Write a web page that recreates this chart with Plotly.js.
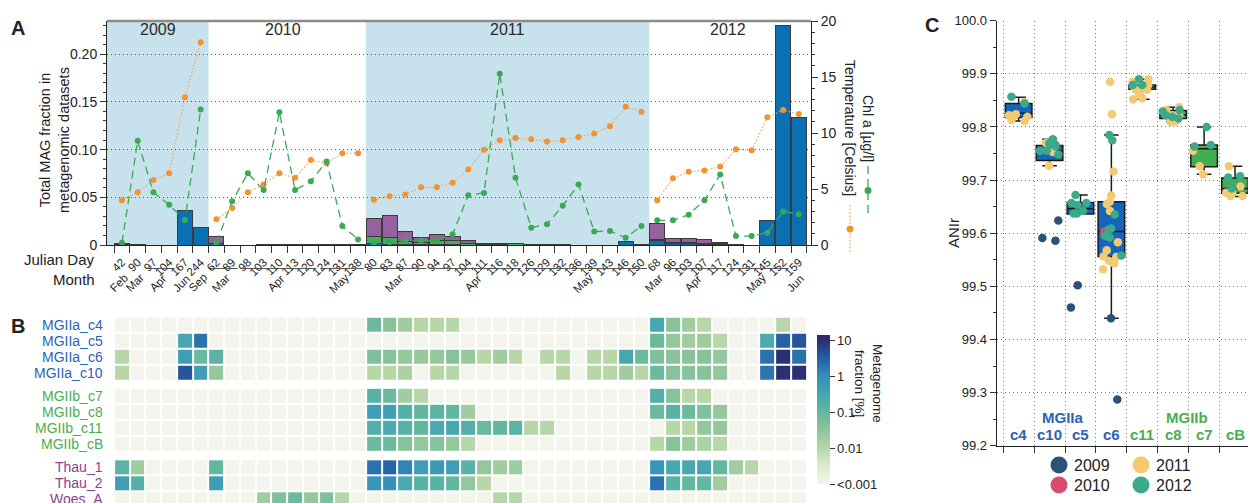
<!DOCTYPE html>
<html><head><meta charset="utf-8">
<script src="https://cdn.plot.ly/plotly-3.0.1.min.js"></script>
<style>html,body{margin:0;padding:0;background:#fff}#chart{width:1248px;height:503px}</style>
</head><body><div id="chart"></div>
<script>
const W = 1248, H = 503;
const px = x => x / W, py = y => 1 - y / H;
const FONT = 'Liberation Sans, Arial, Helvetica, sans-serif';

// ---------- Panel A data ----------
const years = ['2009', '2010', '2011', '2012'];
const days2009 = [42, 90, 97, 104, 167, 244];
const days2010 = [62, 89, 98, 103, 110, 113, 120, 124, 131, 138];
const days2011 = [80, 83, 87, 90, 94, 97, 104, 111, 116, 118, 126, 129, 132, 136, 139, 143, 146, 150];
const days2012 = [68, 96, 103, 107, 117, 124, 131, 145, 152, 159];

const temp2009 = [4.0, 4.7, 5.8, 6.4, 13.2, 18.1];
const temp2010 = [2.3, 3.3, 4.7, 5.4, 6.4, 6.0, 7.6, 7.3, 8.2, 8.2];
const temp2011 = [4.05, 4.35, 4.5, 5.15, 5.15, 5.55, 6.75, 8.5, 9.35, 9.55, 9.45, 9.25, 9.35, 9.65, 9.95, 10.6, 12.35, 11.9];
const temp2012 = [4.0, 5.95, 6.55, 6.65, 7.0, 8.55, 8.45, 11.4, 12.05, 11.7];

const chl2009 = [0.2, 9.3, 4.7, 3.6, 2.2, 12.1];
const chl2010 = [0.2, 3.9, 6.4, 4.9, 11.85, 4.9, 5.7, 7.45, 1.7, 0.5];
const chl2011 = [0.2, 0.25, 0.4, 0.4, 0.4, 0.95, 4.45, 4.65, 15.3, 6.0, 1.55, 1.85, 3.5, 5.4, 1.2, 1.25, 0.65, 1.7];
const chl2012 = [2.2, 2.2, 2.7, 4.0, 6.3, 0.8, 0.8, 1.1, 3.0, 2.75];

// MAG fractions (stacked bars)
const mgIIaFrac = [0.0005, 0, 0, 0, 0.036, 0.018,
  0.002, 0, 0, 0, 0, 0, 0, 0, 0, 0,
  0.002, 0.001, 0.0005, 0.0005, 0.0005, 0.0005, 0, 0, 0, 0, 0, 0, 0, 0, 0, 0, 0.004, 0.001,
  0.005, 0.0015, 0.0015, 0.001, 0.001, 0.0003, 0, 0.026, 0.23, 0.134];
const mgIIbFrac = [0, 0, 0, 0, 0, 0,
  0, 0, 0, 0, 0, 0, 0, 0, 0, 0,
  0.007, 0.007, 0.0035, 0.0023, 0.004, 0.004, 0.0018, 0.0008, 0.0008, 0.0012, 0.0003, 0.0003, 0.0003, 0, 0, 0, 0, 0,
  0.0007, 0.0008, 0.0008, 0.0006, 0.0003, 0, 0, 0, 0, 0];
const thauFrac = [0.001, 0.0003, 0, 0, 0, 0,
  0.007, 0, 0, 0.0003, 0.0008, 0.001, 0.0005, 0.0005, 0.0008, 0.0002,
  0.019, 0.023, 0.01, 0.0053, 0.006, 0.0049, 0.0024, 0.0012, 0.001, 0.0003, 0, 0, 0, 0, 0, 0, 0, 0,
  0.017, 0.0043, 0.0043, 0.004, 0.0015, 0.0005, 0, 0, 0, 0];

// Month labels: name, first and last sample (index in the concatenated day list)
const monthNames = ['Feb', 'Mar', 'Apr', 'Jun', 'Sep', 'Mar', 'Apr', 'May', 'Mar', 'Apr', 'May', 'Mar', 'Apr', 'May', 'Jun'];
const monthFirst = [0, 1, 2, 4, 5, 6, 8, 13, 16, 20, 26, 34, 35, 39, 43];
const monthLast  = [0, 1, 3, 4, 5, 7, 12, 15, 19, 25, 33, 34, 38, 42, 43];

// ---------- Panel B data (metagenome fraction, %) ----------
const rowNames = ['MGIIa_c4', 'MGIIa_c5', 'MGIIa_c6', 'MGIIa_c10', 'MGIIb_c7', 'MGIIb_c8', 'MGIIb_c11', 'MGIIb_cB', 'Thau_1', 'Thau_2', 'Woes_A'];
const c4Pct  = [0,0,0,0,0,0, 0,0,0,0,0,0,0,0,0,0, 0.08,0.04,0.02,0.01,0.01,0.01,0,0,0,0,0,0,0,0,0,0,0,0, 0.3,0.04,0.02,0.01,0,0,0,0,0.01,0];
const c5Pct  = [0,0,0,0,0.3,2, 0,0,0,0,0,0,0,0,0,0, 0,0,0,0,0,0,0,0,0,0,0,0,0,0,0,0,0,0, 0.08,0.028,0.02,0.02,0.01,0,0,0.25,3,4];
const c6Pct  = [0.01,0,0,0,0.5,0.08, 0.13,0,0,0,0,0,0,0,0,0, 0.05,0.04,0.028,0.025,0.028,0.04,0.025,0.01,0.02,0.01,0,0.01,0.01,0,0.01,0.01,0.3,0.08, 0.05,0.04,0.04,0.04,0.028,0,0,2,10,2];
const c10Pct = [0.01,0,0,0,4,0.5, 0.028,0,0,0,0,0,0,0,0,0, 0.01,0.01,0.014,0,0.01,0.01,0,0,0,0,0,0,0.01,0,0.01,0.01,0.02,0.01, 0.08,0.04,0.04,0.04,0.028,0,0,1.8,10,10];
const c7Pct  = [0,0,0,0,0,0, 0,0,0,0,0,0,0,0,0,0, 0.14,0.08,0.02,0.01,0,0,0,0,0,0,0,0,0,0,0,0,0,0, 0.18,0.04,0.01,0.01,0,0,0,0,0,0];
const c8Pct  = [0,0,0,0,0,0, 0,0,0,0,0,0,0,0,0,0, 0.5,0.45,0.18,0.1,0.13,0.1,0.02,0,0,0,0,0,0,0,0,0,0,0, 0.08,0.14,0.08,0.05,0.028,0,0,0,0,0];
const c11Pct = [0,0,0,0,0,0, 0,0,0,0,0,0,0,0,0,0, 0.18,0.25,0.14,0.1,0.25,0.28,0.18,0.08,0.1,0.13,0.01,0.01,0,0,0,0,0,0, 0,0.01,0.01,0.028,0.028,0,0,0,0,0];
const cBPct  = [0,0,0,0,0,0, 0,0,0,0,0,0,0,0,0,0, 0.08,0.08,0.04,0.028,0.04,0.028,0.01,0,0,0,0,0,0,0,0,0,0,0, 0.01,0.04,0.02,0.014,0.01,0,0,0,0,0];
const thau1Pct = [0.13,0.02,0,0,0,0, 0.1,0,0,0,0,0,0,0,0,0, 2,2.8,1.3,0.5,0.6,0.5,0.14,0.028,0.02,0.022,0,0,0,0,0,0,0,0, 0.8,0.3,0.28,0.3,0.1,0.02,0.01,0,0,0];
const thau2Pct = [0.5,0.18,0,0,0,0, 0.5,0,0,0,0,0,0,0,0,0, 0.8,1,0.25,0.14,0.14,0.1,0.028,0.01,0,0,0,0,0,0,0,0,0,0, 2,0.14,0.1,0.1,0.02,0,0,0,0,0];
const woesAPct = [0,0,0,0,0,0, 0,0,0,0.02,0.05,0.08,0.028,0.05,0.01,0, 0,0,0,0,0,0,0,0,0.01,0.01,0,0,0,0,0,0,0,0, 0,0,0,0,0,0,0,0,0,0];
const cbTickVals = [0.001, 0.01, 0.1, 1, 10];
const cbTickText = ['<0.001', '0.01', '0.1', '1', '10'];

// ---------- Panel C data ----------
const clusters = ['c4', 'c10', 'c5', 'c6', 'c11', 'c8', 'c7', 'cB'];
const clusterGroup = ['MGIIa', 'MGIIa', 'MGIIa', 'MGIIa', 'MGIIb', 'MGIIb', 'MGIIb', 'MGIIb'];
const q1C  = [99.818, 99.737, 99.636, 99.556, 99.871, 99.816, 99.725, 99.675];
const medC = [99.826, 99.755, 99.646, 99.603, 99.875, 99.823, 99.759, 99.684];
const q3C  = [99.844, 99.765, 99.658, 99.659, 99.879, 99.831, 99.766, 99.704];
const lowC = [99.811, 99.727, 99.636, 99.440, 99.852, 99.810, 99.711, 99.669];
const upC  = [99.856, 99.777, 99.672, 99.785, 99.890, 99.837, 99.800, 99.726];

const ani2009Cl = ['c10', 'c10', 'c10', 'c5', 'c5', 'c6', 'c6'];
const ani2009 = [99.624, 99.586, 99.591, 99.502, 99.460, 99.440, 99.287];
const ani2010Cl = ['c10', 'c6'];
const ani2010 = [99.766, 99.603];
const ani2011Cl = ['c4','c4','c4','c4','c4','c4', 'c10','c10','c10',
  'c6','c6','c6','c6','c6','c6','c6','c6','c6','c6','c6','c6','c6','c6',
  'c11','c11','c11','c11','c11','c11','c11','c11','c11','c11',
  'c8','c8','c8','c8','c8','c8','c8','c8', 'c7','c7','c7', 'cB','cB','cB','cB','cB','cB'];
const ani2011 = [99.813, 99.819, 99.811, 99.847, 99.822, 99.824, 99.770, 99.753, 99.727,
  99.885, 99.824, 99.716, 99.671, 99.659, 99.655, 99.642, 99.583, 99.568, 99.556, 99.555, 99.548, 99.543, 99.532,
  99.863, 99.877, 99.870, 99.852, 99.854, 99.870, 99.885, 99.890, 99.870, 99.879,
  99.832, 99.810, 99.822, 99.810, 99.822, 99.837, 99.822, 99.819, 99.755, 99.726, 99.711,
  99.675, 99.670, 99.726, 99.670, 99.688, 99.676];
const ani2012Cl = ['c4','c4', 'c10','c10','c10','c10','c10','c10', 'c5','c5','c5','c5','c5','c5','c5',
  'c6','c6','c6','c6','c6','c6','c6','c6', 'c11','c11','c11', 'c8','c8','c8','c8','c8', 'c7','c7','c7', 'cB','cB','cB'];
const ani2012 = [99.844, 99.857, 99.755, 99.748, 99.755, 99.777, 99.769, 99.763,
  99.657, 99.672, 99.657, 99.653, 99.642, 99.637, 99.637,
  99.785, 99.775, 99.635, 99.595, 99.592, 99.607, 99.609, 99.558,
  99.879, 99.879, 99.890, 99.829, 99.816, 99.819, 99.832, 99.822,
  99.800, 99.766, 99.763, 99.705, 99.707, 99.684];

// ---------- styles ----------
const BLUE = '#0b6fb4', GREEN = '#43ad5a', PURPLE = '#97609f';
const SHADE = '#c7e2ec';
const TEMPC = '#f39233', CHLC = '#3aa956';
const YEARCOL = {'2009': '#2b5279', '2010': '#d94c6b', '2011': '#f3ca72', '2012': '#3aaa88'};
const LBLUE = '#2b62b5', LGREEN = '#4aae4f', LPURPLE = '#8e4090';

const daysByYear = [days2009, days2010, days2011, days2012];
const tempByYear = [temp2009, temp2010, temp2011, temp2012];
const chlByYear = [chl2009, chl2010, chl2011, chl2012];
const allDays = [].concat(...daysByYear);
const idx = allDays.map((d, i) => i);
const yearStart = [];
{ let s = 0; daysByYear.forEach(a => { yearStart.push(s); s += a.length; }); }

const traces = [];
[[mgIIaFrac, BLUE], [mgIIbFrac, GREEN], [thauFrac, PURPLE]].forEach(([v, c]) => {
  traces.push({type: 'bar', x: idx, y: v, xaxis: 'x', yaxis: 'y', width: 0.96,
    marker: {color: c, line: {color: '#3b3b3b', width: 1}}, hoverinfo: 'skip'});
});
daysByYear.forEach((d, k) => {
  const xs = d.map((_, i) => yearStart[k] + i);
  traces.push({type: 'scatter', mode: 'lines+markers', x: xs, y: tempByYear[k], xaxis: 'x', yaxis: 'y2',
    line: {color: '#f6a25a', width: 1.2, dash: '1.5px,2px'}, marker: {color: TEMPC, size: 6}, hoverinfo: 'skip'});
  traces.push({type: 'scatter', mode: 'lines+markers', x: xs, y: chlByYear[k], xaxis: 'x', yaxis: 'y2',
    line: {color: CHLC, width: 1.3, dash: '8px,5px'}, marker: {color: CHLC, size: 6}, hoverinfo: 'skip'});
});

// heatmap
const ZMIN = -3, ZMAX = 1.15;
const lg = v => Math.log10(Math.max(v, 0.001));
const nz = z => (z - ZMIN) / (ZMAX - ZMIN);
const cscale = [
  [0, '#f3f5ec'], [nz(-2.5), '#dcebd0'], [nz(-2), '#b7d7a8'], [nz(-1.5), '#90c59a'],
  [nz(-1), '#63b79f'], [nz(-0.5), '#45a6b3'], [nz(0), '#3590ba'], [nz(0.5), '#2460a6'],
  [nz(1), '#2b3072'], [1, '#2c2a66']];
const rowsPct = [c4Pct, c5Pct, c6Pct, c10Pct, c7Pct, c8Pct, c11Pct, cBPct, thau1Pct, thau2Pct, woesAPct];
const rowY = [0, 1, 2, 3, 4.44, 5.44, 6.44, 7.44, 8.91, 9.91, 10.91];
const groups = [[0, 4], [4, 8], [8, 11]];
groups.forEach(([a, b], gi) => {
  traces.push({type: 'heatmap', x: idx, y: rowY.slice(a, b), z: rowsPct.slice(a, b).map(r => r.map(lg)),
    xaxis: 'x3', yaxis: 'y3', zmin: ZMIN, zmax: ZMAX, colorscale: cscale, xgap: 2, ygap: 2,
    hoverinfo: 'skip', showscale: gi === 0,
    colorbar: {x: px(817), xanchor: 'left', xpad: 0, thickness: 13, len: 149 / H, lenmode: 'fraction',
      y: py(409.5), yanchor: 'middle', ypad: 0, outlinewidth: 0, ticks: 'outside', ticklen: 5,
      tickcolor: '#333', tickvals: cbTickVals.map(lg), ticktext: cbTickText,
      tickfont: {size: 13, color: '#222', family: FONT}}});
});

// panel C boxes
const boxFill = {MGIIa: '#1565bd', MGIIb: '#3fad52'};
['MGIIa', 'MGIIb'].forEach(g => {
  const sel = clusters.map((c, i) => i).filter(i => clusterGroup[i] === g);
  traces.push({type: 'box', x: sel.map(i => clusters[i]), q1: sel.map(i => q1C[i]), median: sel.map(i => medC[i]),
    q3: sel.map(i => q3C[i]), lowerfence: sel.map(i => lowC[i]), upperfence: sel.map(i => upC[i]),
    xaxis: 'x4', yaxis: 'y4', fillcolor: boxFill[g], line: {color: '#1a1a1a', width: 1.5},
    width: 0.86, whiskerwidth: 0.55, boxpoints: false, hoverinfo: 'skip'});
});
[['2009', ani2009Cl, ani2009], ['2010', ani2010Cl, ani2010], ['2011', ani2011Cl, ani2011], ['2012', ani2012Cl, ani2012]]
.forEach(([yr, cl, v]) => {
  traces.push({type: 'box', x: cl, y: v, xaxis: 'x4', yaxis: 'y4', boxpoints: 'all', jitter: 0.85, pointpos: 0,
    width: 0.86, fillcolor: 'rgba(0,0,0,0)', line: {color: 'rgba(0,0,0,0)', width: 0}, whiskerwidth: 0,
    marker: {color: YEARCOL[yr], size: 8.5, opacity: 1}, hoverinfo: 'skip'});
});

// ---------- layout ----------
const xDom = [px(107), px(811)];
const xRange = [-0.95, 43.77];
const shapes = [];
const annotations = [];
const ann = (o) => annotations.push(Object.assign({showarrow: false, xanchor: 'center', yanchor: 'middle',
  font: {family: FONT, size: 14, color: '#222'}}, o));

[[0, 5], [16, 33]].forEach(([a, b]) => {
  shapes.push({type: 'rect', xref: 'x', yref: 'paper', x0: a === 0 ? xRange[0] : a - 0.5, x1: b + 0.5,
    y0: py(245), y1: py(21), fillcolor: SHADE, line: {width: 0}, layer: 'below'});
});
shapes.push({type: 'line', xref: 'paper', yref: 'paper', x0: xDom[0], x1: xDom[1], y0: py(21), y1: py(21),
  line: {color: '#8c8c8c', width: 2.5}});
const yearMid = [2.3, 10.2, 24.5, 38.5];
years.forEach((y, k) => ann({xref: 'x', yref: 'paper', x: yearMid[k], y: py(30), text: y, font: {family: FONT, size: 16, color: '#2a2a2a'}}));
monthNames.forEach((m, k) => {
  const a = monthFirst[k], b = monthLast[k];
  if (b > a) shapes.push({type: 'line', xref: 'x', yref: 'paper', x0: a - 0.4, x1: b + 0.35, y0: py(268.5), y1: py(268.5),
    line: {color: '#555', width: 1}});
  ann({xref: 'x', yref: 'paper', x: (a + b) / 2 - 0.2, y: py(283), text: m, textangle: -45,
    font: {family: FONT, size: 11.5, color: '#222'}});
});
ann({xref: 'paper', yref: 'paper', x: px(97), y: py(259), xanchor: 'right', text: 'Julian Day', font: {family: FONT, size: 15, color: '#222'}});
ann({xref: 'paper', yref: 'paper', x: px(97), y: py(279), xanchor: 'right', text: 'Month', font: {family: FONT, size: 15, color: '#222'}});
ann({xref: 'paper', yref: 'paper', x: px(54), y: py(140), textangle: -90, text: 'Total MAG fraction in<br>metagenomic datasets',
  font: {family: FONT, size: 14.5, color: '#222'}});
ann({xref: 'paper', yref: 'paper', x: px(850), y: py(128), textangle: 90, text: 'Temperature [Celsius]', font: {family: FONT, size: 14, color: '#222'}});
ann({xref: 'paper', yref: 'paper', x: px(868), y: py(128), textangle: 90, text: 'Chl a [µg/l]', font: {family: FONT, size: 14, color: '#222'}});
shapes.push({type: 'line', xref: 'paper', yref: 'paper', x0: px(850), x1: px(850), y0: py(205), y1: py(253), line: {color: '#f6a25a', width: 1.2, dash: '1.5px,2px'}});
shapes.push({type: 'circle', xref: 'paper', yref: 'paper', xsizemode: 'pixel', ysizemode: 'pixel', xanchor: px(850), yanchor: py(229),
  x0: -3.5, x1: 3.5, y0: -3.5, y1: 3.5, fillcolor: TEMPC, line: {width: 0}});
shapes.push({type: 'line', xref: 'paper', yref: 'paper', x0: px(868), x1: px(868), y0: py(166), y1: py(214), line: {color: CHLC, width: 1.3, dash: '8px,5px'}});
shapes.push({type: 'circle', xref: 'paper', yref: 'paper', xsizemode: 'pixel', ysizemode: 'pixel', xanchor: px(868), yanchor: py(190.5),
  x0: -3.5, x1: 3.5, y0: -3.5, y1: 3.5, fillcolor: CHLC, line: {width: 0}});

ann({xref: 'paper', yref: 'paper', x: px(18), y: py(28), text: '<b>A</b>', font: {family: FONT, size: 20, color: '#222'}});
ann({xref: 'paper', yref: 'paper', x: px(18), y: py(326), text: '<b>B</b>', font: {family: FONT, size: 20, color: '#222'}});
ann({xref: 'paper', yref: 'paper', x: px(932), y: py(25), text: '<b>C</b>', font: {family: FONT, size: 20, color: '#222'}});

const rowColor = [LBLUE, LBLUE, LBLUE, LBLUE, LGREEN, LGREEN, LGREEN, LGREEN, LPURPLE, LPURPLE, LPURPLE];
rowNames.forEach((r, i) => ann({xref: 'paper', yref: 'y3', x: px(105), y: rowY[i], xanchor: 'right',
  text: r, font: {family: FONT, size: 14, color: rowColor[i]}}));
ann({xref: 'paper', yref: 'paper', x: px(869), y: py(383), textangle: 90, text: 'Metagenome<br>fraction [%]',
  font: {family: FONT, size: 13.5, color: '#222'}});

clusters.forEach((c, i) => ann({xref: 'x4', yref: 'y4', x: c, y: 99.222, text: '<b>' + c + '</b>',
  font: {family: FONT, size: 15, color: clusterGroup[i] === 'MGIIa' ? LBLUE : LGREEN}}));
ann({xref: 'x4', yref: 'y4', x: 1.42, y: 99.254, text: '<b>MGIIa</b>', font: {family: FONT, size: 15, color: LBLUE}});
ann({xref: 'x4', yref: 'y4', x: 5.46, y: 99.254, text: '<b>MGIIb</b>', font: {family: FONT, size: 15, color: LGREEN}});
ann({xref: 'paper', yref: 'paper', x: px(953), y: py(233), textangle: -90, text: 'ANIr', font: {family: FONT, size: 15, color: '#222'}});
const legPos = {'2009': [1059, 465], '2010': [1059, 485], '2011': [1141, 465], '2012': [1141, 485]};
years.forEach(y => {
  const [lx, ly] = legPos[y];
  shapes.push({type: 'circle', xref: 'paper', yref: 'paper', xsizemode: 'pixel', ysizemode: 'pixel', xanchor: px(lx), yanchor: py(ly),
    x0: -8.5, x1: 8.5, y0: -8.5, y1: 8.5, fillcolor: YEARCOL[y], line: {width: 0}});
  ann({xref: 'paper', yref: 'paper', x: px(lx + 13), y: py(ly), xanchor: 'left', text: y,
    font: {family: FONT, size: 16, color: '#222'}});
});

const GRIDDOT = '1px,3px';
const layout = {
  width: W, height: H, margin: {l: 0, r: 0, t: 0, b: 0}, paper_bgcolor: '#fff', plot_bgcolor: 'rgba(0,0,0,0)',
  showlegend: false, barmode: 'stack', boxmode: 'overlay', font: {family: FONT, size: 14, color: '#222'},
  xaxis: {domain: xDom, range: xRange, anchor: 'y', tickmode: 'array', tickvals: idx, ticktext: allDays.map(String),
    tickangle: -45, ticks: 'outside', ticklen: 5, tickcolor: 'rgba(0,0,0,0)', tickfont: {size: 11.5, color: '#222'},
    minor: {tickmode: 'linear', tick0: -0.5, dtick: 1, ticks: 'outside', ticklen: 7, tickcolor: '#333', tickwidth: 1, showgrid: false},
    showline: true, linecolor: '#222', linewidth: 1, showgrid: false, zeroline: false},
  yaxis: {domain: [py(245), py(21)], range: [0, 0.2348], anchor: 'x', tickmode: 'array',
    tickvals: [0, 0.05, 0.1, 0.15, 0.2], ticktext: ['0', '0.05', '0.10', '0.15', '0.20'],
    ticks: 'outside', ticklen: 6, tickcolor: '#333', tickfont: {size: 14, color: '#222'},
    minor: {tickmode: 'linear', tick0: 0, dtick: 0.01, ticks: 'outside', ticklen: 3, tickcolor: '#333', showgrid: false},
    showgrid: true, gridcolor: '#555', griddash: GRIDDOT, gridwidth: 1, showline: true, linecolor: '#222', zeroline: false},
  yaxis2: {overlaying: 'y', side: 'right', anchor: 'x', range: [0, 20], tickmode: 'array', tickvals: [0, 5, 10, 15, 20],
    ticks: 'outside', ticklen: 6, tickcolor: '#333', tickfont: {size: 14, color: '#222'},
    minor: {tickmode: 'linear', tick0: 0, dtick: 1, ticks: 'outside', ticklen: 3, tickcolor: '#333', showgrid: false},
    showgrid: false, showline: true, linecolor: '#222', zeroline: false},
  xaxis3: {domain: xDom, range: xRange, anchor: 'y3', visible: false},
  yaxis3: {domain: [0, py(316.7)], range: [11.14, -0.5], anchor: 'x3', visible: false},
  xaxis4: {domain: [px(996.7), 1], range: [-0.71, 7.42], anchor: 'y4', type: 'category', categoryorder: 'array',
    categoryarray: clusters, showticklabels: false, tickson: 'boundaries', ticks: 'outside', ticklen: 6, tickcolor: '#333',
    showgrid: true, gridcolor: '#777', griddash: GRIDDOT, gridwidth: 1, showline: true, linecolor: '#222', zeroline: false},
  yaxis4: {domain: [py(445.7), py(20.7)], range: [99.2, 100.0], anchor: 'x4', tickmode: 'linear', tick0: 99.2, dtick: 0.1,
    tickformat: '.1f', ticks: 'outside', ticklen: 6, tickcolor: '#333', tickfont: {size: 13, color: '#222'},
    minor: {tickmode: 'linear', tick0: 99.2, dtick: 0.05, ticks: 'outside', ticklen: 3, tickcolor: '#333', showgrid: false},
    showgrid: true, gridcolor: '#777', griddash: GRIDDOT, gridwidth: 1, showline: true, linecolor: '#222', zeroline: false},
  shapes: shapes, annotations: annotations
};

Plotly.newPlot('chart', traces, layout, {displayModeBar: false, staticPlot: true});
</script>
</body></html>
